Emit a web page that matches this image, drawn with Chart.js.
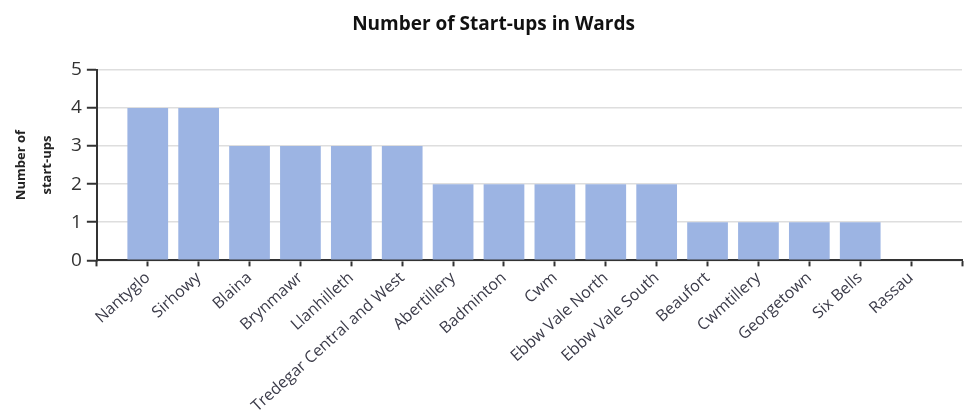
<!DOCTYPE html>
<html>
<head>
<meta charset="utf-8">
<script src="https://cdn.jsdelivr.net/npm/chart.js@4.4.1/dist/chart.umd.min.js"></script>
<style>
  html, body { margin: 0; padding: 0; background: #fff; overflow: hidden; width: 967px; height: 414px; }
  #wrap { position: absolute; left: 0; top: 0; width: 987px; height: 414px; }
</style>
</head>
<body>
<div id="wrap"><canvas id="c" width="987" height="414"></canvas></div>
<script>
const chartTitle = 'Number of Start-ups in Wards';
const yAxisTitle = ['Number of', 'start-ups'];
const wards = ['Nantyglo', 'Sirhowy', 'Blaina', 'Brynmawr', 'Llanhilleth', 'Tredegar Central and West',
  'Abertillery', 'Badminton', 'Cwm', 'Ebbw Vale North', 'Ebbw Vale South', 'Beaufort',
  'Cwmtillery', 'Georgetown', 'Six Bells', 'Rassau'];
const startUps = [4, 4, 3, 3, 3, 3, 2, 2, 2, 2, 2, 1, 1, 1, 1, 0];
const yTicks = [0, 1, 2, 3, 4, 5];

// the axis carries one empty slot at each end, as in the original
const labels = [''].concat(wards, ['']);
const values = [null].concat(startUps, [null]);

const FONT = '"Open Sans", "Noto Sans", sans-serif';

new Chart(document.getElementById('c'), {
  type: 'bar',
  data: {
    labels: labels,
    datasets: [{
      data: values,
      backgroundColor: '#9cb4e3',
      borderWidth: 0,
      categoryPercentage: 0.8,
      barPercentage: 1.0
    }]
  },
  options: {
    responsive: false,
    animation: false,
    devicePixelRatio: 1,
    layout: { padding: { left: 25, right: 25, top: 0, bottom: -4 } },
    plugins: {
      legend: { display: false },
      tooltip: { enabled: false },
      title: {
        display: true,
        text: chartTitle,
        color: '#111',
        font: { family: FONT, size: 19, weight: 'bold' },
        padding: { top: 13, bottom: 34 }
      }
    },
    scales: {
      x: {
        type: 'category',
        offset: false,
        border: { display: true, color: '#333', width: 2 },
        grid: { display: true, offset: false, drawOnChartArea: false, drawTicks: true, tickLength: 6, tickColor: '#333', tickWidth: 2 },
        ticks: {
          autoSkip: false,
          minRotation: 42,
          maxRotation: 42,
          padding: 2,
          color: '#3a3a48',
          font: { family: FONT, size: 16 }
        }
      },
      y: {
        min: yTicks[0],
        max: yTicks[yTicks.length - 1],
        afterBuildTicks: (axis) => { axis.ticks = yTicks.map(v => ({ value: v })); },
        border: { display: true, color: '#333', width: 2 },
        grid: { color: '#dedede', lineWidth: 1.5, tickLength: 10, tickColor: '#333', tickWidth: 2 },
        ticks: {
          padding: 5,
          color: '#333',
          font: { family: FONT, size: 19 }
        },
        title: {
          display: true,
          text: yAxisTitle,
          color: '#222',
          font: { family: FONT, size: 13, weight: 'bold', lineHeight: 2 },
          padding: { top: -17, bottom: 6 }
        }
      }
    }
  }
});
</script>
</body>
</html>
